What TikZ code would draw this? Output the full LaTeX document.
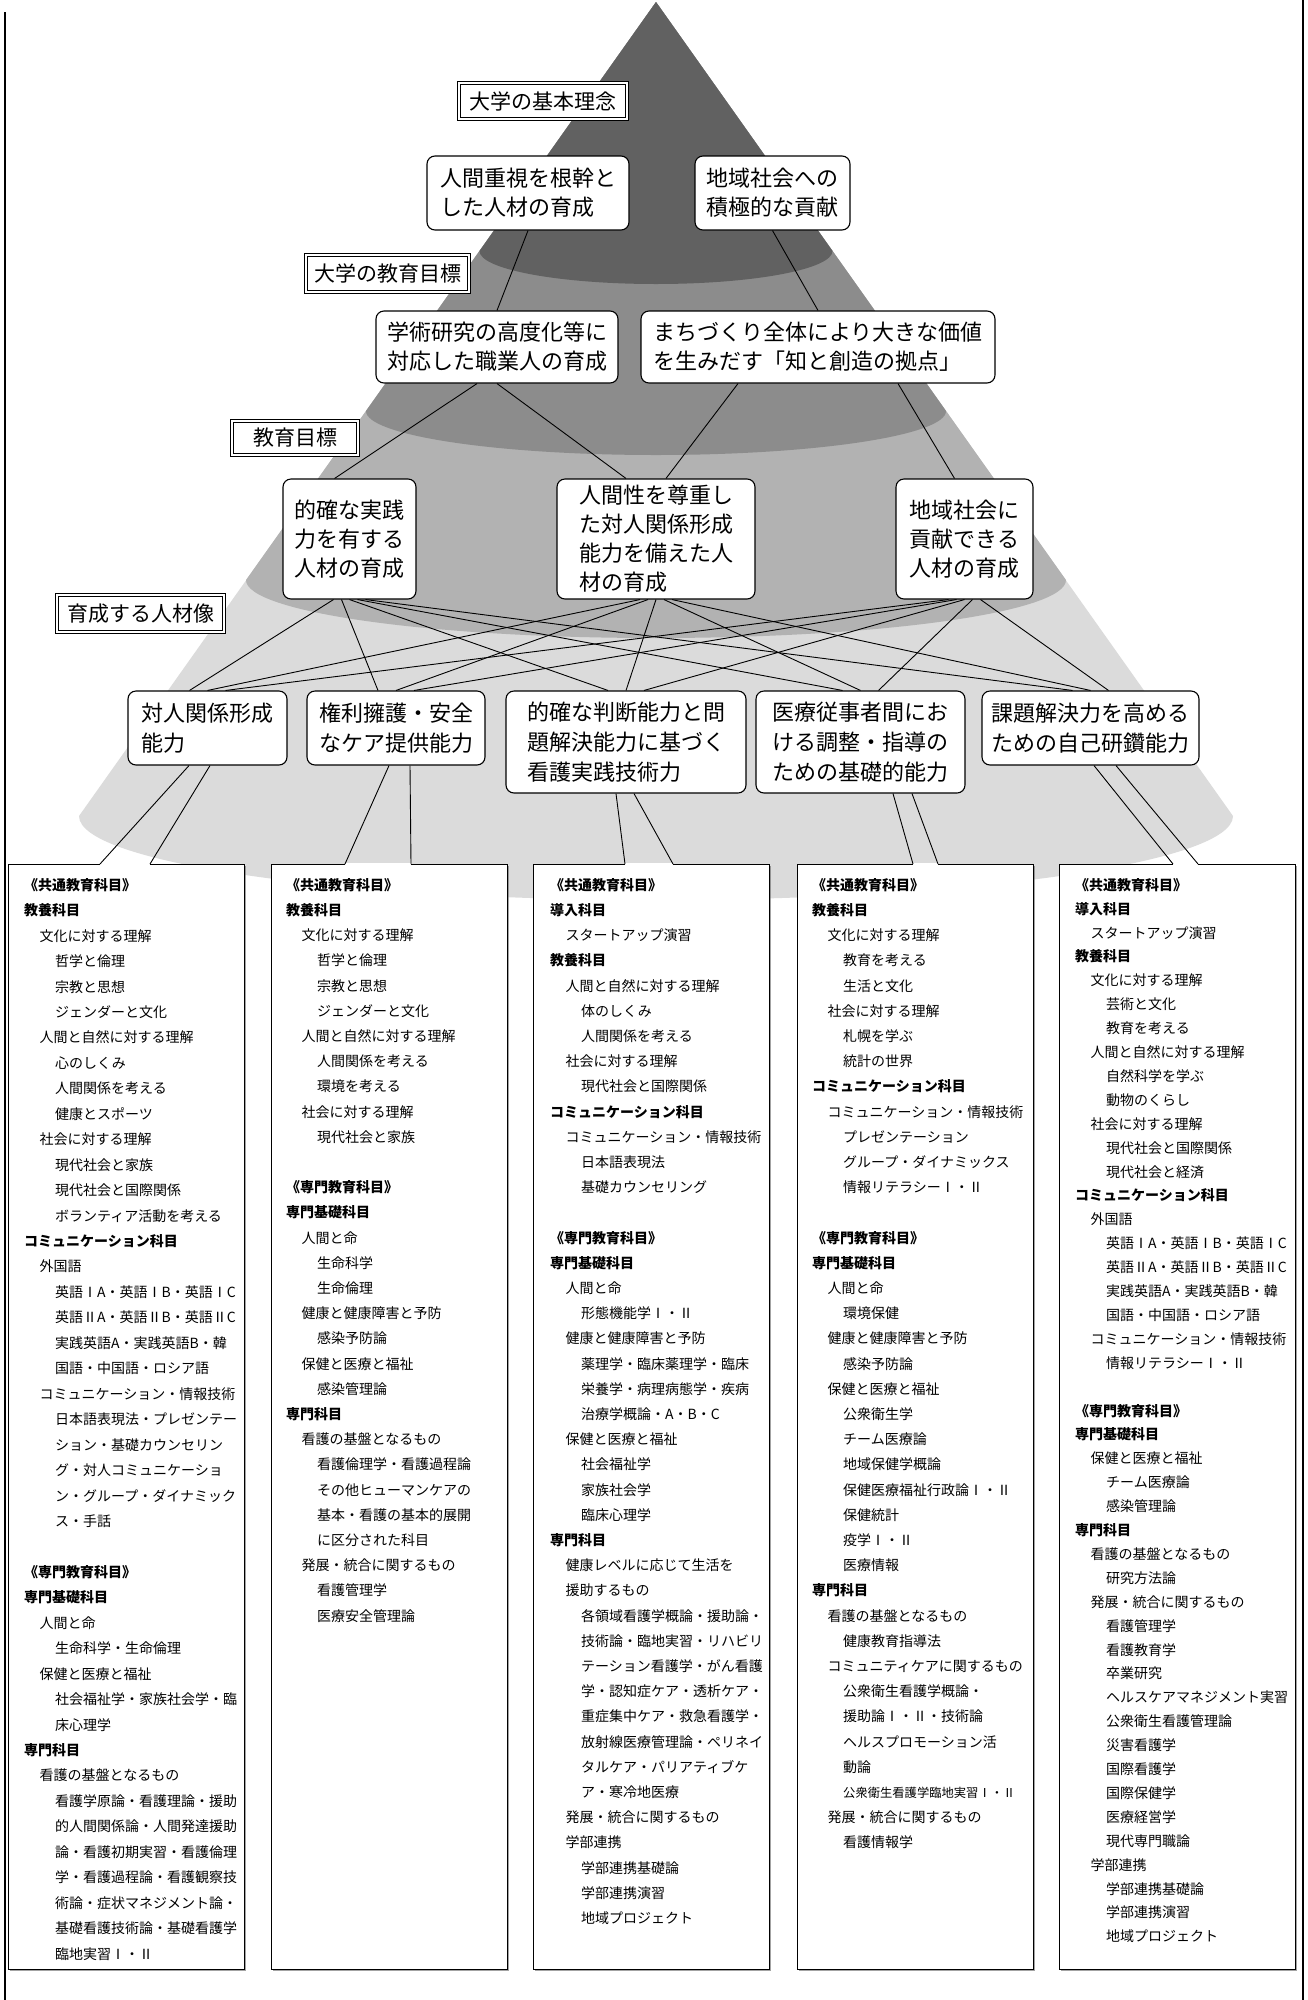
\documentclass[tikz,border=0pt]{standalone}
\usepackage{fontspec}
\setmainfont{Noto Sans CJK JP}
\usetikzlibrary{calc,shadows}

\definecolor{bandA}{gray}{0.38}
\definecolor{bandB}{gray}{0.55}
\definecolor{bandC}{gray}{0.70}
\definecolor{bandD}{gray}{0.86}

\newcommand{\hd}[1]{\textbf{#1}}
\newcommand{\indone}{\hspace*{15.5pt}}
\newcommand{\indtwo}{\hspace*{31pt}}

\tikzset{
  stagebox/.style={draw, double, double distance=2.4pt, line width=0.7pt, fill=white, inner sep=0pt, font=\fontsize{21}{26}\selectfont},
  aimbox/.style={draw, rounded corners=8pt, line width=1.1pt, fill=white, align=left, inner sep=0pt, font=\fontsize{22}{29}\selectfont},
  abilitybox/.style={aimbox, font=\fontsize{22}{30}\selectfont},
  coursebox/.style={draw, line width=1.1pt, fill=white, anchor=north west, inner sep=0pt, minimum width=236pt, minimum height=1105pt,
    drop shadow={shadow xshift=1.5pt, shadow yshift=-1.5pt, fill=black!60, opacity=0.6}},
  coursetext/.style={anchor=north west, align=left, inner sep=0pt, font=\fontsize{14}{#1}\selectfont},
  coursetext/.default=25.2,
  link/.style={line width=0.9pt},
}

\begin{document}
\begin{tikzpicture}[x=1pt,y=1pt]
  \useasboundingbox (0,0) rectangle (1307,-2000);

  % outer frame
  \draw[line width=1.6pt] (5,-12) -- (5,-2000);
  \draw[line width=1.6pt] (1303,0) -- (1303,-2000);

  % Pyramid bands
  \coordinate (apex) at (656,-2);
  \fill[bandD] (apex) -- (79,-816) arc[start angle=180, end angle=360, x radius=577, y radius=84] -- cycle;
  \fill[bandC] (apex) -- (246,-580) arc[start angle=180, end angle=360, x radius=410, y radius=58] -- cycle;
  \fill[bandB] (apex) -- (366,-411) arc[start angle=180, end angle=360, x radius=290, y radius=44] -- cycle;
  \fill[bandA] (apex) -- (479.5,-251) arc[start angle=180, end angle=360, x radius=176.5, y radius=33] -- cycle;

  % Level labels
  \node[stagebox, minimum width=168pt, minimum height=36pt] (stage1) at (543,-101) {大学の基本理念};
  \node[stagebox, minimum width=163pt, minimum height=37pt] (stage2) at (387.5,-273.5) {大学の教育目標};
  \node[stagebox, minimum width=126pt, minimum height=34pt] (stage3) at (295,-438) {教育目標};
  \node[stagebox, minimum width=167pt, minimum height=37pt] (stage4) at (140.5,-613.5) {育成する人材像};

  % University philosophy
  \node[aimbox, minimum width=202pt, minimum height=74pt] (ideal1) at (528,-193) {人間重視を根幹と\\した人材の育成};
  \node[aimbox, minimum width=155pt, minimum height=74pt] (ideal2) at (772.5,-193) {地域社会への\\積極的な貢献};

  % University education goals
  \node[aimbox, minimum width=242pt, minimum height=72pt] (univGoal1) at (497,-347) {学術研究の高度化等に\\対応した職業人の育成};
  \node[aimbox, minimum width=354pt, minimum height=72pt] (univGoal2) at (818,-347) {まちづくり全体により大きな価値\\を生みだす「知と創造の拠点」};

  % Education goals
  \node[aimbox, minimum width=133pt, minimum height=120pt] (goal1) at (349.5,-539) {的確な実践\\力を有する\\人材の育成};
  \node[aimbox, minimum width=198pt, minimum height=120pt] (goal2) at (656,-539) {人間性を尊重し\\た対人関係形成\\能力を備えた人\\材の育成};
  \node[aimbox, minimum width=137pt, minimum height=120pt] (goal3) at (964.5,-539) {地域社会に\\貢献できる\\人材の育成};

  % Linking the goals
  \draw[link] (ideal1.south) -- (univGoal1.north);
  \draw[link] (ideal2.south) -- (univGoal2.north);
  \draw[link] ([xshift=-20pt]univGoal1.south) -- ([xshift=-15pt]goal1.north);
  \draw[link] (univGoal1.south) -- ([xshift=-30pt]goal2.north);
  \draw[link] ([xshift=-80pt]univGoal2.south) -- ([xshift=10pt]goal2.north);
  \draw[link] ([xshift=80pt]univGoal2.south) -- ([xshift=-10pt]goal3.north);

  % Abilities
  \node[abilitybox, minimum width=159pt, minimum height=74pt] (ability1) at (207.5,-728) {対人関係形成\\能力};
  \node[abilitybox, minimum width=178pt, minimum height=74pt] (ability2) at (396,-728) {権利擁護・安全\\なケア提供能力};
  \node[abilitybox, minimum width=240pt, minimum height=102pt] (ability3) at (626,-742) {的確な判断能力と問\\題解決能力に基づく\\看護実践技術力};
  \node[abilitybox, minimum width=209pt, minimum height=102pt] (ability4) at (860.5,-742) {医療従事者間にお\\ける調整・指導の\\ための基礎的能力};
  \node[abilitybox, minimum width=217pt, minimum height=74pt] (ability5) at (1090.5,-728) {課題解決力を高める\\ための自己研鑽能力};

  % Linking goals and abilities
  \foreach \i in {1,2,3}
    \foreach \j in {1,...,5}
      \draw[link] ($(goal\i.south)+({(\j-3)*8},0)$) -- ($(ability\j.north)+({(\i-2)*18},0)$);

  % Course boxes
  \node[coursebox] (course1) at (8,-864) {};
  \node[coursebox] (course2) at (271,-864) {};
  \node[coursebox] (course3) at (533,-864) {};
  \node[coursebox] (course4) at (797,-864) {};
  \node[coursebox] (course5) at (1059,-864) {};

  % Callout pointers
  \coordinate (tip1a) at (100,-864);  \coordinate (tip1b) at (150,-864);
  \coordinate (tip2a) at (345,-864);  \coordinate (tip2b) at (411,-864);
  \coordinate (tip3a) at (625,-864);  \coordinate (tip3b) at (673,-864);
  \coordinate (tip4a) at (913,-864);  \coordinate (tip4b) at (938,-864);
  \coordinate (tip5a) at (1173,-864); \coordinate (tip5b) at (1198,-864);
  \foreach \k in {1,...,5}
    \draw[white, line width=2pt] (tip\k a) -- (tip\k b);
  \draw[link] ([xshift=-18.5pt]ability1.south) -- (tip1a);
  \draw[link] ([xshift=2.5pt]ability1.south) -- (tip1b);
  \draw[link] ([xshift=-7pt]ability2.south) -- (tip2a);
  \draw[link] ([xshift=14pt]ability2.south) -- (tip2b);
  \draw[link] ([xshift=-10pt]ability3.south) -- (tip3a);
  \draw[link] ([xshift=8pt]ability3.south) -- (tip3b);
  \draw[link] ([xshift=32.5pt]ability4.south) -- (tip4a);
  \draw[link] ([xshift=51.5pt]ability4.south) -- (tip4b);
  \draw[link] ([xshift=3.5pt]ability5.south) -- (tip5a);
  \draw[link] ([xshift=25.5pt]ability5.south) -- (tip5b);

  % Course lists
  \node[coursetext=25.45] (list1) at (24,-878) {%
    \hd{《共通教育科目》}\\
    \hd{教養科目}\\
    \indone 文化に対する理解\\
    \indtwo 哲学と倫理\\
    \indtwo 宗教と思想\\
    \indtwo ジェンダーと文化\\
    \indone 人間と自然に対する理解\\
    \indtwo 心のしくみ\\
    \indtwo 人間関係を考える\\
    \indtwo 健康とスポーツ\\
    \indone 社会に対する理解\\
    \indtwo 現代社会と家族\\
    \indtwo 現代社会と国際関係\\
    \indtwo ボランティア活動を考える\\
    \hd{コミュニケーション科目}\\
    \indone 外国語\\
    \indtwo 英語ⅠA・英語ⅠB・英語ⅠC\\
    \indtwo 英語ⅡA・英語ⅡB・英語ⅡC\\
    \indtwo 実践英語A・実践英語B・韓\\
    \indtwo 国語・中国語・ロシア語\\
    \indone コミュニケーション・情報技術\\
    \indtwo 日本語表現法・プレゼンテー\\
    \indtwo ション・基礎カウンセリン\\
    \indtwo グ・対人コミュニケーショ\\
    \indtwo ン・グループ・ダイナミック\\
    \indtwo ス・手話\\
    \mbox{}\\
    \hd{《専門教育科目》}\\
    \hd{専門基礎科目}\\
    \indone 人間と命\\
    \indtwo 生命科学・生命倫理\\
    \indone 保健と医療と福祉\\
    \indtwo 社会福祉学・家族社会学・臨\\
    \indtwo 床心理学\\
    \hd{専門科目}\\
    \indone 看護の基盤となるもの\\
    \indtwo 看護学原論・看護理論・援助\\
    \indtwo 的人間関係論・人間発達援助\\
    \indtwo 論・看護初期実習・看護倫理\\
    \indtwo 学・看護過程論・看護観察技\\
    \indtwo 術論・症状マネジメント論・\\
    \indtwo 基礎看護技術論・基礎看護学\\
    \indtwo 臨地実習Ⅰ・Ⅱ};

  \node[coursetext] (list2) at (286,-878) {%
    \hd{《共通教育科目》}\\
    \hd{教養科目}\\
    \indone 文化に対する理解\\
    \indtwo 哲学と倫理\\
    \indtwo 宗教と思想\\
    \indtwo ジェンダーと文化\\
    \indone 人間と自然に対する理解\\
    \indtwo 人間関係を考える\\
    \indtwo 環境を考える\\
    \indone 社会に対する理解\\
    \indtwo 現代社会と家族\\
    \mbox{}\\
    \hd{《専門教育科目》}\\
    \hd{専門基礎科目}\\
    \indone 人間と命\\
    \indtwo 生命科学\\
    \indtwo 生命倫理\\
    \indone 健康と健康障害と予防\\
    \indtwo 感染予防論\\
    \indone 保健と医療と福祉\\
    \indtwo 感染管理論\\
    \hd{専門科目}\\
    \indone 看護の基盤となるもの\\
    \indtwo 看護倫理学・看護過程論\\
    \indtwo その他ヒューマンケアの\\
    \indtwo 基本・看護の基本的展開\\
    \indtwo に区分された科目\\
    \indone 発展・統合に関するもの\\
    \indtwo 看護管理学\\
    \indtwo 医療安全管理論};

  \node[coursetext] (list3) at (550,-878) {%
    \hd{《共通教育科目》}\\
    \hd{導入科目}\\
    \indone スタートアップ演習\\
    \hd{教養科目}\\
    \indone 人間と自然に対する理解\\
    \indtwo 体のしくみ\\
    \indtwo 人間関係を考える\\
    \indone 社会に対する理解\\
    \indtwo 現代社会と国際関係\\
    \hd{コミュニケーション科目}\\
    \indone コミュニケーション・情報技術\\
    \indtwo 日本語表現法\\
    \indtwo 基礎カウンセリング\\
    \mbox{}\\
    \hd{《専門教育科目》}\\
    \hd{専門基礎科目}\\
    \indone 人間と命\\
    \indtwo 形態機能学Ⅰ・Ⅱ\\
    \indone 健康と健康障害と予防\\
    \indtwo 薬理学・臨床薬理学・臨床\\
    \indtwo 栄養学・病理病態学・疾病\\
    \indtwo 治療学概論・A・B・C\\
    \indone 保健と医療と福祉\\
    \indtwo 社会福祉学\\
    \indtwo 家族社会学\\
    \indtwo 臨床心理学\\
    \hd{専門科目}\\
    \indone 健康レベルに応じて生活を\\
    \indone 援助するもの\\
    \indtwo 各領域看護学概論・援助論・\\
    \indtwo 技術論・臨地実習・リハビリ\\
    \indtwo テーション看護学・がん看護\\
    \indtwo 学・認知症ケア・透析ケア・\\
    \indtwo 重症集中ケア・救急看護学・\\
    \indtwo 放射線医療管理論・ペリネイ\\
    \indtwo タルケア・パリアティブケ\\
    \indtwo ア・寒冷地医療\\
    \indone 発展・統合に関するもの\\
    \indone 学部連携\\
    \indtwo 学部連携基礎論\\
    \indtwo 学部連携演習\\
    \indtwo 地域プロジェクト};

  \node[coursetext] (list4) at (812,-878) {%
    \hd{《共通教育科目》}\\
    \hd{教養科目}\\
    \indone 文化に対する理解\\
    \indtwo 教育を考える\\
    \indtwo 生活と文化\\
    \indone 社会に対する理解\\
    \indtwo 札幌を学ぶ\\
    \indtwo 統計の世界\\
    \hd{コミュニケーション科目}\\
    \indone コミュニケーション・情報技術\\
    \indtwo プレゼンテーション\\
    \indtwo グループ・ダイナミックス\\
    \indtwo 情報リテラシーⅠ・Ⅱ\\
    \mbox{}\\
    \hd{《専門教育科目》}\\
    \hd{専門基礎科目}\\
    \indone 人間と命\\
    \indtwo 環境保健\\
    \indone 健康と健康障害と予防\\
    \indtwo 感染予防論\\
    \indone 保健と医療と福祉\\
    \indtwo 公衆衛生学\\
    \indtwo チーム医療論\\
    \indtwo 地域保健学概論\\
    \indtwo 保健医療福祉行政論Ⅰ・Ⅱ\\
    \indtwo 保健統計\\
    \indtwo 疫学Ⅰ・Ⅱ\\
    \indtwo 医療情報\\
    \hd{専門科目}\\
    \indone 看護の基盤となるもの\\
    \indtwo 健康教育指導法\\
    \indone コミュニティケアに関するもの\\
    \indtwo 公衆衛生看護学概論・\\
    \indtwo 援助論Ⅰ・Ⅱ・技術論\\
    \indtwo ヘルスプロモーション活\\
    \indtwo 動論\\
    \indtwo {\fontsize{12.3}{25.2}\selectfont 公衆衛生看護学臨地実習Ⅰ・Ⅱ}\\
    \indone 発展・統合に関するもの\\
    \indtwo 看護情報学};

  \node[coursetext=23.9] (list5) at (1075,-878) {%
    \hd{《共通教育科目》}\\
    \hd{導入科目}\\
    \indone スタートアップ演習\\
    \hd{教養科目}\\
    \indone 文化に対する理解\\
    \indtwo 芸術と文化\\
    \indtwo 教育を考える\\
    \indone 人間と自然に対する理解\\
    \indtwo 自然科学を学ぶ\\
    \indtwo 動物のくらし\\
    \indone 社会に対する理解\\
    \indtwo 現代社会と国際関係\\
    \indtwo 現代社会と経済\\
    \hd{コミュニケーション科目}\\
    \indone 外国語\\
    \indtwo 英語ⅠA・英語ⅠB・英語ⅠC\\
    \indtwo 英語ⅡA・英語ⅡB・英語ⅡC\\
    \indtwo 実践英語A・実践英語B・韓\\
    \indtwo 国語・中国語・ロシア語\\
    \indone コミュニケーション・情報技術\\
    \indtwo 情報リテラシーⅠ・Ⅱ\\
    \mbox{}\\
    \hd{《専門教育科目》}\\
    \hd{専門基礎科目}\\
    \indone 保健と医療と福祉\\
    \indtwo チーム医療論\\
    \indtwo 感染管理論\\
    \hd{専門科目}\\
    \indone 看護の基盤となるもの\\
    \indtwo 研究方法論\\
    \indone 発展・統合に関するもの\\
    \indtwo 看護管理学\\
    \indtwo 看護教育学\\
    \indtwo 卒業研究\\
    \indtwo ヘルスケアマネジメント実習\\
    \indtwo 公衆衛生看護管理論\\
    \indtwo 災害看護学\\
    \indtwo 国際看護学\\
    \indtwo 国際保健学\\
    \indtwo 医療経営学\\
    \indtwo 現代専門職論\\
    \indone 学部連携\\
    \indtwo 学部連携基礎論\\
    \indtwo 学部連携演習\\
    \indtwo 地域プロジェクト};

\end{tikzpicture}
\end{document}
